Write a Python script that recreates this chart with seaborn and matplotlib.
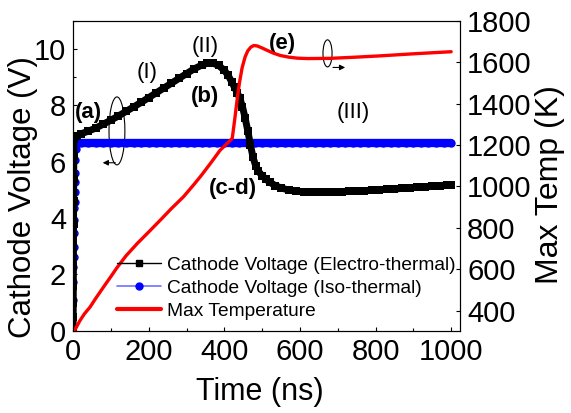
import matplotlib
matplotlib.use("Agg")
import matplotlib.pyplot as plt
from matplotlib.lines import Line2D
from matplotlib.patches import Ellipse
from matplotlib.ticker import MultipleLocator
import seaborn as sns

# === Data ===
# Cathode voltage, electro-thermal run (V) vs time (ns)
et_t = [0, 0.2, 0.4, 0.6, 0.8, 1.0, 1.2, 1.4, 1.6, 1.8, 2.0,
        10, 20, 40, 60, 80, 100, 120, 140, 160, 180, 200, 220, 240, 260, 280,
        300, 320, 340, 355, 370, 385, 400, 410, 420, 427, 434, 441, 448, 455,
        462, 469, 476, 483, 490, 500, 510, 520, 535, 550, 570, 590, 610, 630,
        650, 670, 690, 710, 730, 750, 770, 790, 810, 830, 850, 870, 890, 910,
        930, 950, 970, 990, 1000]
et_v = [0, 0.5, 1.0, 1.6, 2.3, 3.0, 3.8, 4.6, 5.4, 6.2, 6.85,
        6.92, 6.98, 7.08, 7.19, 7.33, 7.47, 7.62, 7.78, 7.94, 8.10, 8.27, 8.44, 8.61, 8.78, 8.95,
        9.12, 9.29, 9.42, 9.49, 9.49, 9.41, 9.24, 9.06, 8.82, 8.63, 8.45, 8.25, 7.95, 7.55,
        7.10, 6.60, 6.15, 5.85, 5.66, 5.50, 5.38, 5.27, 5.15, 5.07, 4.99, 4.95, 4.93, 4.92,
        4.92, 4.92, 4.93, 4.94, 4.95, 4.96, 4.97, 4.99, 5.00, 5.02, 5.03, 5.05, 5.07, 5.09,
        5.11, 5.13, 5.15, 5.17, 5.18]

# Cathode voltage, iso-thermal run (V)
iso_t = [0, 0.5, 1.0, 1.5, 2.0, 2.5, 3.0, 3.5, 4.0, 4.5, 5.0, 5.5, 6.0, 6.5, 7.0,
         20, 40, 60, 80, 100, 120, 140, 160, 180, 200,
         220, 240, 260, 280, 300, 320, 340, 360, 380, 400,
         420, 440, 460, 480, 500, 520, 540, 560, 580, 600,
         620, 640, 660, 680, 700, 720, 740, 760, 780, 800,
         820, 840, 860, 880, 900, 920, 940, 960, 980, 1000]
iso_v = [1.10, 1.74, 2.27, 2.62, 2.98, 3.48, 3.94, 4.36, 4.57, 4.93, 5.28, 5.60, 6.06, 6.45, 6.65,
         6.65, 6.65, 6.65, 6.65, 6.65, 6.65, 6.65, 6.65, 6.65, 6.65,
         6.65, 6.65, 6.65, 6.65, 6.65, 6.65, 6.65, 6.65, 6.65, 6.65,
         6.65, 6.65, 6.65, 6.65, 6.65, 6.65, 6.65, 6.65, 6.65, 6.65,
         6.65, 6.65, 6.65, 6.65, 6.65, 6.65, 6.65, 6.65, 6.65, 6.65,
         6.65, 6.65, 6.65, 6.65, 6.65, 6.65, 6.65, 6.65, 6.65, 6.65]
iso_rise_n = 14  # points on the initial vertical rise

# Max temperature (K)
temp_t = [0, 5, 10, 18, 30, 45, 60, 80, 100, 115, 140, 170, 200, 230, 260, 292,
          320, 340, 365, 389, 410, 421, 428, 434, 440, 447, 455, 462, 470, 478,
          487, 500, 513, 530, 548, 570, 593, 620, 680, 750, 812, 900, 1000]
temp_k = [300, 308, 325, 352, 385, 418, 460, 513, 565, 605, 665, 725, 780, 836, 893, 950,
          1010, 1055, 1115, 1175, 1212, 1232, 1330, 1420, 1500, 1572, 1625, 1654, 1672, 1680,
          1678, 1668, 1657, 1643, 1632, 1624, 1619, 1617, 1618, 1624, 1630, 1640, 1650]

legend_labels = ["Cathode Voltage (Electro-thermal)",
                 "Cathode Voltage (Iso-thermal)",
                 "Max Temperature"]

x_ticks = [0, 200, 400, 600, 800, 1000]
y_ticks = [0, 2, 4, 6, 8, 10]
temp_ticks = [400, 600, 800, 1000, 1200, 1400, 1600, 1800]

# annotation labels: (text, time, voltage, bold)
notes = [("(a)", 40, 7.73, True), ("(I)", 196, 9.15, False), ("(II)", 349, 10.07, False),
         ("(b)", 349, 8.30, True), ("(c-d)", 423, 5.04, True), ("(e)", 553, 10.18, True),
         ("(III)", 741, 7.75, False)]

# === Style ===
sns.set_style("ticks", rc={"axes.edgecolor": "black", "xtick.color": "black",
                           "ytick.color": "black", "text.color": "black",
                           "axes.labelcolor": "black"})
plt.rcParams["font.family"] = ["Liberation Sans", "DejaVu Sans"]

fig = plt.figure(figsize=(5.71, 4.13), dpi=100)
ax = fig.add_axes([0.128, 0.199, 0.678, 0.751])
ax2 = ax.twinx()

# iso-thermal: dots on the rise, dense dots (a solid band) on the plateau
sns.lineplot(x=iso_t, y=iso_v, ax=ax, color="#0000ff", marker="o", markersize=6,
             markeredgewidth=0, linewidth=1, errorbar=None, zorder=2)
sns.lineplot(x=iso_t[iso_rise_n:], y=iso_v[iso_rise_n:], ax=ax, color="#0000ff",
             linewidth=6, errorbar=None, zorder=2, solid_capstyle="round")
# electro-thermal: dense squares
sns.lineplot(x=et_t, y=et_v, ax=ax, color="black", marker="s", markersize=6,
             markeredgewidth=0, linewidth=5, errorbar=None, zorder=3)
sns.lineplot(x=temp_t, y=temp_k, ax=ax2, color="red", linewidth=2.4, errorbar=None)

ax.set_xlim(0, 1024)
ax.set_ylim(0, 11)
ax2.set_ylim(303, 1800)
ax.set_xticks(x_ticks)
ax.set_yticks(y_ticks)
ax2.set_yticks(temp_ticks)
ax.xaxis.set_minor_locator(MultipleLocator(100))
ax.yaxis.set_minor_locator(MultipleLocator(1))

ax.tick_params(which="both", direction="in", top=False, right=False, width=0.8,
               labelsize=21, pad=5)
ax.tick_params(which="major", length=3)
ax.tick_params(which="minor", length=2)
ax2.tick_params(direction="in", length=3, width=0.8, labelsize=21, pad=5)

for a in (ax, ax2):
    for sp in a.spines.values():
        sp.set_linewidth(0.8)
        sp.set_color("black")

ax.set_xlabel("Time (ns)", fontsize=22)
ax.set_ylabel("Cathode Voltage (V)", fontsize=22.5)
ax2.set_ylabel("Max Temp (K)", fontsize=23)
ax.xaxis.set_label_coords(0.483, -0.148)
ax.yaxis.set_label_coords(-0.09, 0.432)
ax2.yaxis.set_label_coords(1.193, 0.471)

for txt, tx, ty, bold in notes:
    ax.text(tx, ty, txt, ha="center", va="center", fontsize=16,
            fontweight="bold" if bold else "normal")

# ellipses with arrows pointing to the relevant axis
ax.add_patch(Ellipse((116, 7.09), 42, 2.41, fill=False, color="black", lw=0.8))
ax.annotate("", xy=(71, 5.96), xytext=(119, 5.96),
            arrowprops=dict(arrowstyle="-|>", color="black", lw=0.8, mutation_scale=8))
ax.add_patch(Ellipse((673, 9.84), 24, 0.96, fill=False, color="black", lw=0.8))
ax.annotate("", xy=(727, 9.34), xytext=(680, 9.34),
            arrowprops=dict(arrowstyle="-|>", color="black", lw=0.8, mutation_scale=8))

handles = [Line2D([], [], color="black", lw=1, marker="s", markersize=4.5),
           Line2D([], [], color="#7070ff", lw=1.2, marker="o", markersize=5,
                  markerfacecolor="#0000ff", markeredgecolor="#0000ff"),
           Line2D([], [], color="red", lw=3)]
ax2.legend(handles, legend_labels, loc="upper left", bbox_to_anchor=(0.114, 0.239),
           frameon=False, fontsize=13.8, handlelength=2.3, handletextpad=0.3,
           labelspacing=0.28, borderpad=0, borderaxespad=0)

fig.savefig("out.png", dpi=100)
